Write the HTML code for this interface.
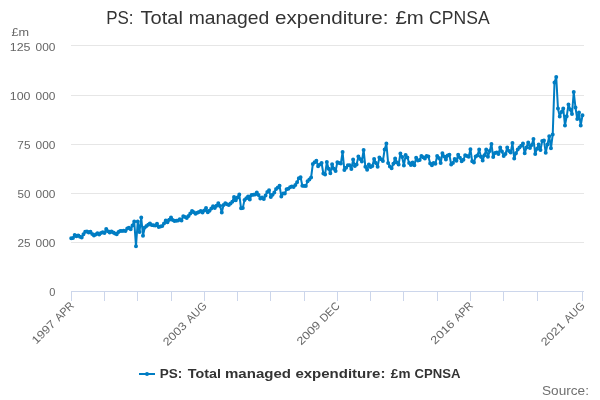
<!DOCTYPE html>
<html><head><meta charset="utf-8"><title>PS: Total managed expenditure: £m CPNSA</title>
<style>html,body{margin:0;padding:0;background:#fff;overflow:hidden}svg{display:block;will-change:transform}text{font-family:"Liberation Sans",sans-serif}</style></head><body>
<svg width="600" height="400" viewBox="0 0 600 400">
<rect width="600" height="400" fill="#fff"/>
<g stroke="#e6e6e6" stroke-width="1" shape-rendering="crispEdges"><path d="M71 45.5H584"/><path d="M71 95.5H584"/><path d="M71 144.5H584"/><path d="M71 193.5H584"/><path d="M71 242.5H584"/></g>
<g stroke="#ccd6eb" stroke-width="1" shape-rendering="crispEdges"><path d="M71 291.5H584"/><path d="M71.5 291V301"/><path d="M104.5 291V301"/><path d="M137.5 291V301"/><path d="M171.5 291V301"/><path d="M204.5 291V301"/><path d="M237.5 291V301"/><path d="M270.5 291V301"/><path d="M304.5 291V301"/><path d="M337.5 291V301"/><path d="M370.5 291V301"/><path d="M403.5 291V301"/><path d="M437.5 291V301"/><path d="M470.5 291V301"/><path d="M503.5 291V301"/><path d="M537.5 291V301"/><path d="M582.5 291V301"/></g>
<path d="M71.20 238.22 L72.95 238.00 L74.70 235.00 L76.45 236.35 L78.20 235.38 L79.95 236.65 L81.71 237.40 L83.46 234.25 L85.21 231.85 L86.96 231.62 L88.71 232.38 L90.46 231.85 L92.21 234.10 L93.96 235.60 L95.71 234.62 L97.47 233.35 L99.22 234.40 L100.97 233.12 L102.72 232.22 L104.47 232.90 L106.22 229.00 L107.97 231.25 L109.72 232.38 L111.47 231.50 L113.22 232.62 L114.97 233.49 L116.73 234.35 L118.48 231.88 L120.23 231.12 L121.98 230.94 L123.73 230.75 L125.48 231.12 L127.23 228.50 L128.98 227.75 L130.73 229.25 L132.49 225.38 L134.24 221.50 L135.99 246.25 L137.74 221.50 L139.49 232.00 L141.24 217.50 L142.99 235.75 L144.74 227.50 L146.49 226.00 L148.24 224.69 L150.00 223.38 L151.75 224.88 L153.50 225.25 L155.25 225.62 L157.00 223.75 L158.75 227.12 L160.50 226.56 L162.25 226.00 L164.00 223.38 L165.75 220.38 L167.50 222.25 L169.26 219.81 L171.01 217.38 L172.76 220.00 L174.51 221.12 L176.26 220.75 L178.01 220.38 L179.76 219.25 L181.51 220.38 L183.26 216.25 L185.01 217.06 L186.77 217.88 L188.52 216.00 L190.27 213.56 L192.02 211.12 L193.77 212.25 L195.52 213.75 L197.27 212.81 L199.02 211.88 L200.77 211.12 L202.52 212.62 L204.28 210.38 L206.03 208.12 L207.78 212.25 L209.53 210.75 L211.28 208.50 L213.03 206.25 L214.78 208.12 L216.53 205.69 L218.28 203.25 L220.03 205.88 L221.79 212.62 L223.54 205.12 L225.29 203.25 L227.04 204.19 L228.79 205.12 L230.54 203.44 L232.29 201.75 L234.04 196.88 L235.79 200.25 L237.55 197.44 L239.30 194.62 L241.05 208.35 L242.80 207.90 L244.55 199.88 L246.30 198.19 L248.05 196.50 L249.80 199.50 L251.55 195.00 L253.30 194.81 L255.06 194.62 L256.81 192.38 L258.56 195.00 L260.31 198.38 L262.06 197.62 L263.81 199.12 L265.56 195.38 L267.31 192.00 L269.06 190.25 L270.81 197.00 L272.56 194.75 L274.32 192.50 L276.07 189.12 L277.82 187.44 L279.57 185.75 L281.32 196.62 L283.07 193.62 L284.82 193.40 L286.57 189.30 L288.32 188.80 L290.07 187.30 L291.83 186.50 L293.58 187.00 L295.33 185.00 L297.08 182.25 L298.83 178.25 L300.58 177.25 L302.33 185.75 L304.08 186.00 L305.83 186.00 L307.58 181.25 L309.34 179.50 L311.09 177.50 L312.84 164.00 L314.59 162.30 L316.34 160.75 L318.09 166.25 L319.84 164.50 L321.59 163.00 L323.34 173.50 L325.09 174.38 L326.85 162.00 L328.60 168.75 L330.35 173.25 L332.10 164.25 L333.85 168.75 L335.60 171.00 L337.35 162.30 L339.10 162.90 L340.85 163.50 L342.60 152.00 L344.36 170.12 L346.11 167.69 L347.86 165.25 L349.61 165.25 L351.36 169.00 L353.11 159.62 L354.86 166.00 L356.61 164.50 L358.36 156.62 L360.11 159.06 L361.87 161.50 L363.62 149.88 L365.37 166.75 L367.12 169.75 L368.87 164.50 L370.62 167.12 L372.37 166.00 L374.12 158.88 L375.87 163.00 L377.62 166.75 L379.38 157.38 L381.13 159.25 L382.88 161.12 L384.63 149.50 L386.38 143.50 L388.13 163.00 L389.88 166.38 L391.63 168.25 L393.38 163.75 L395.13 158.50 L396.89 162.62 L398.64 164.50 L400.39 153.62 L402.14 157.00 L403.89 165.62 L405.64 155.12 L407.39 157.38 L409.14 163.00 L410.89 164.88 L412.64 162.62 L414.40 165.25 L416.15 157.75 L417.90 160.38 L419.65 160.00 L421.40 155.88 L423.15 157.19 L424.90 158.50 L426.65 155.88 L428.40 156.62 L430.15 163.38 L431.91 165.25 L433.66 163.00 L435.41 163.75 L437.16 155.88 L438.91 158.12 L440.66 163.00 L442.41 153.25 L444.16 156.62 L445.91 159.62 L447.66 155.50 L449.42 154.75 L451.17 164.50 L452.92 163.00 L454.67 158.88 L456.42 160.75 L458.17 154.75 L459.92 157.75 L461.67 161.25 L463.42 159.75 L465.17 155.25 L466.93 156.00 L468.68 156.75 L470.43 149.25 L472.18 161.25 L473.93 162.38 L475.68 156.38 L477.43 155.62 L479.18 149.62 L480.93 156.75 L482.68 160.50 L484.44 155.25 L486.19 149.62 L487.94 156.75 L489.69 151.12 L491.44 144.00 L493.19 157.12 L494.94 153.00 L496.69 152.62 L498.44 154.12 L500.19 147.38 L501.95 151.38 L503.70 155.88 L505.45 154.00 L507.20 147.62 L508.95 151.00 L510.70 152.50 L512.45 143.12 L514.20 158.50 L515.95 153.25 L517.71 149.50 L519.46 147.62 L521.21 145.75 L522.96 143.50 L524.71 153.25 L526.46 147.62 L528.21 142.38 L529.96 148.00 L531.71 145.00 L533.46 139.00 L535.22 154.00 L536.97 148.75 L538.72 144.62 L540.47 150.12 L542.22 141.12 L543.97 140.38 L545.72 152.75 L547.47 144.50 L549.22 136.25 L550.97 148.25 L552.73 134.38 L554.48 82.60 L556.23 77.00 L557.98 108.60 L559.73 116.50 L561.48 112.00 L563.23 108.40 L564.98 125.40 L566.73 116.30 L568.48 104.40 L570.24 109.60 L571.99 114.00 L573.74 92.00 L575.49 107.50 L577.24 119.10 L578.99 112.60 L580.74 125.40 L582.49 115.30" fill="none" stroke="#007dc3" stroke-width="2" stroke-linejoin="round" stroke-linecap="round"/>
<path d="M71.20 238.22h0M72.95 238.00h0M74.70 235.00h0M76.45 236.35h0M78.20 235.38h0M79.95 236.65h0M81.71 237.40h0M83.46 234.25h0M85.21 231.85h0M86.96 231.62h0M88.71 232.38h0M90.46 231.85h0M92.21 234.10h0M93.96 235.60h0M95.71 234.62h0M97.47 233.35h0M99.22 234.40h0M100.97 233.12h0M102.72 232.22h0M104.47 232.90h0M106.22 229.00h0M107.97 231.25h0M109.72 232.38h0M111.47 231.50h0M113.22 232.62h0M114.97 233.49h0M116.73 234.35h0M118.48 231.88h0M120.23 231.12h0M121.98 230.94h0M123.73 230.75h0M125.48 231.12h0M127.23 228.50h0M128.98 227.75h0M130.73 229.25h0M132.49 225.38h0M134.24 221.50h0M135.99 246.25h0M137.74 221.50h0M139.49 232.00h0M141.24 217.50h0M142.99 235.75h0M144.74 227.50h0M146.49 226.00h0M148.24 224.69h0M150.00 223.38h0M151.75 224.88h0M153.50 225.25h0M155.25 225.62h0M157.00 223.75h0M158.75 227.12h0M160.50 226.56h0M162.25 226.00h0M164.00 223.38h0M165.75 220.38h0M167.50 222.25h0M169.26 219.81h0M171.01 217.38h0M172.76 220.00h0M174.51 221.12h0M176.26 220.75h0M178.01 220.38h0M179.76 219.25h0M181.51 220.38h0M183.26 216.25h0M185.01 217.06h0M186.77 217.88h0M188.52 216.00h0M190.27 213.56h0M192.02 211.12h0M193.77 212.25h0M195.52 213.75h0M197.27 212.81h0M199.02 211.88h0M200.77 211.12h0M202.52 212.62h0M204.28 210.38h0M206.03 208.12h0M207.78 212.25h0M209.53 210.75h0M211.28 208.50h0M213.03 206.25h0M214.78 208.12h0M216.53 205.69h0M218.28 203.25h0M220.03 205.88h0M221.79 212.62h0M223.54 205.12h0M225.29 203.25h0M227.04 204.19h0M228.79 205.12h0M230.54 203.44h0M232.29 201.75h0M234.04 196.88h0M235.79 200.25h0M237.55 197.44h0M239.30 194.62h0M241.05 208.35h0M242.80 207.90h0M244.55 199.88h0M246.30 198.19h0M248.05 196.50h0M249.80 199.50h0M251.55 195.00h0M253.30 194.81h0M255.06 194.62h0M256.81 192.38h0M258.56 195.00h0M260.31 198.38h0M262.06 197.62h0M263.81 199.12h0M265.56 195.38h0M267.31 192.00h0M269.06 190.25h0M270.81 197.00h0M272.56 194.75h0M274.32 192.50h0M276.07 189.12h0M277.82 187.44h0M279.57 185.75h0M281.32 196.62h0M283.07 193.62h0M284.82 193.40h0M286.57 189.30h0M288.32 188.80h0M290.07 187.30h0M291.83 186.50h0M293.58 187.00h0M295.33 185.00h0M297.08 182.25h0M298.83 178.25h0M300.58 177.25h0M302.33 185.75h0M304.08 186.00h0M305.83 186.00h0M307.58 181.25h0M309.34 179.50h0M311.09 177.50h0M312.84 164.00h0M314.59 162.30h0M316.34 160.75h0M318.09 166.25h0M319.84 164.50h0M321.59 163.00h0M323.34 173.50h0M325.09 174.38h0M326.85 162.00h0M328.60 168.75h0M330.35 173.25h0M332.10 164.25h0M333.85 168.75h0M335.60 171.00h0M337.35 162.30h0M339.10 162.90h0M340.85 163.50h0M342.60 152.00h0M344.36 170.12h0M346.11 167.69h0M347.86 165.25h0M349.61 165.25h0M351.36 169.00h0M353.11 159.62h0M354.86 166.00h0M356.61 164.50h0M358.36 156.62h0M360.11 159.06h0M361.87 161.50h0M363.62 149.88h0M365.37 166.75h0M367.12 169.75h0M368.87 164.50h0M370.62 167.12h0M372.37 166.00h0M374.12 158.88h0M375.87 163.00h0M377.62 166.75h0M379.38 157.38h0M381.13 159.25h0M382.88 161.12h0M384.63 149.50h0M386.38 143.50h0M388.13 163.00h0M389.88 166.38h0M391.63 168.25h0M393.38 163.75h0M395.13 158.50h0M396.89 162.62h0M398.64 164.50h0M400.39 153.62h0M402.14 157.00h0M403.89 165.62h0M405.64 155.12h0M407.39 157.38h0M409.14 163.00h0M410.89 164.88h0M412.64 162.62h0M414.40 165.25h0M416.15 157.75h0M417.90 160.38h0M419.65 160.00h0M421.40 155.88h0M423.15 157.19h0M424.90 158.50h0M426.65 155.88h0M428.40 156.62h0M430.15 163.38h0M431.91 165.25h0M433.66 163.00h0M435.41 163.75h0M437.16 155.88h0M438.91 158.12h0M440.66 163.00h0M442.41 153.25h0M444.16 156.62h0M445.91 159.62h0M447.66 155.50h0M449.42 154.75h0M451.17 164.50h0M452.92 163.00h0M454.67 158.88h0M456.42 160.75h0M458.17 154.75h0M459.92 157.75h0M461.67 161.25h0M463.42 159.75h0M465.17 155.25h0M466.93 156.00h0M468.68 156.75h0M470.43 149.25h0M472.18 161.25h0M473.93 162.38h0M475.68 156.38h0M477.43 155.62h0M479.18 149.62h0M480.93 156.75h0M482.68 160.50h0M484.44 155.25h0M486.19 149.62h0M487.94 156.75h0M489.69 151.12h0M491.44 144.00h0M493.19 157.12h0M494.94 153.00h0M496.69 152.62h0M498.44 154.12h0M500.19 147.38h0M501.95 151.38h0M503.70 155.88h0M505.45 154.00h0M507.20 147.62h0M508.95 151.00h0M510.70 152.50h0M512.45 143.12h0M514.20 158.50h0M515.95 153.25h0M517.71 149.50h0M519.46 147.62h0M521.21 145.75h0M522.96 143.50h0M524.71 153.25h0M526.46 147.62h0M528.21 142.38h0M529.96 148.00h0M531.71 145.00h0M533.46 139.00h0M535.22 154.00h0M536.97 148.75h0M538.72 144.62h0M540.47 150.12h0M542.22 141.12h0M543.97 140.38h0M545.72 152.75h0M547.47 144.50h0M549.22 136.25h0M550.97 148.25h0M552.73 134.38h0M554.48 82.60h0M556.23 77.00h0M557.98 108.60h0M559.73 116.50h0M561.48 112.00h0M563.23 108.40h0M564.98 125.40h0M566.73 116.30h0M568.48 104.40h0M570.24 109.60h0M571.99 114.00h0M573.74 92.00h0M575.49 107.50h0M577.24 119.10h0M578.99 112.60h0M580.74 125.40h0M582.49 115.30h0" fill="none" stroke="#007dc3" stroke-width="4" stroke-linecap="round"/>
<g fill="#333333"><text x="106.20" y="24" font-size="18.5" textLength="27.35" lengthAdjust="spacingAndGlyphs">PS:</text><text x="140.54" y="24" font-size="18.5" textLength="42.39" lengthAdjust="spacingAndGlyphs">Total</text><text x="188.72" y="24" font-size="18.5" textLength="80.52" lengthAdjust="spacingAndGlyphs">managed</text><text x="275.14" y="24" font-size="18.5" textLength="113.35" lengthAdjust="spacingAndGlyphs">expenditure:</text><text x="395.42" y="24" font-size="18.5" textLength="28.30" lengthAdjust="spacingAndGlyphs">£m</text><text x="429.12" y="24" font-size="18.5" textLength="60.51" lengthAdjust="spacingAndGlyphs">CPNSA</text></g>
<g fill="#666666"><text x="11.44" y="35.6" font-size="11.3" textLength="17.60" lengthAdjust="spacingAndGlyphs">£m</text></g>
<g fill="#666666">
<text x="9.75" y="51" font-size="11.2" textLength="20.79" lengthAdjust="spacingAndGlyphs">125</text><text x="35.55" y="51" font-size="11.2" textLength="19.92" lengthAdjust="spacingAndGlyphs">000</text>
<text x="9.76" y="100" font-size="11.2" textLength="20.73" lengthAdjust="spacingAndGlyphs">100</text><text x="35.55" y="100" font-size="11.2" textLength="19.92" lengthAdjust="spacingAndGlyphs">000</text>
<text x="17.39" y="149" font-size="11.2" textLength="13.11" lengthAdjust="spacingAndGlyphs">75</text><text x="35.55" y="149" font-size="11.2" textLength="19.92" lengthAdjust="spacingAndGlyphs">000</text>
<text x="17.53" y="198" font-size="11.2" textLength="12.92" lengthAdjust="spacingAndGlyphs">50</text><text x="35.55" y="198" font-size="11.2" textLength="19.92" lengthAdjust="spacingAndGlyphs">000</text>
<text x="17.42" y="247" font-size="11.2" textLength="13.08" lengthAdjust="spacingAndGlyphs">25</text><text x="35.55" y="247" font-size="11.2" textLength="19.92" lengthAdjust="spacingAndGlyphs">000</text>
<text x="49.28" y="296" font-size="11.2" textLength="6.14" lengthAdjust="spacingAndGlyphs">0</text>
</g>
<g fill="#666666">
<g transform="translate(74.5 306.5) rotate(-45)"><text x="-54.26" y="0" font-size="11.2" textLength="28.26" lengthAdjust="spacingAndGlyphs">1997</text><text x="-21.72" y="0" font-size="11.2" textLength="21.88" lengthAdjust="spacingAndGlyphs">APR</text></g>
<g transform="translate(207.5 306.5) rotate(-45)"><text x="-56.62" y="0" font-size="11.2" textLength="28.31" lengthAdjust="spacingAndGlyphs">2003</text><text x="-24.02" y="0" font-size="11.2" textLength="23.96" lengthAdjust="spacingAndGlyphs">AUG</text></g>
<g transform="translate(340.5 306.5) rotate(-45)"><text x="-55.62" y="0" font-size="11.2" textLength="28.47" lengthAdjust="spacingAndGlyphs">2009</text><text x="-22.92" y="0" font-size="11.2" textLength="22.74" lengthAdjust="spacingAndGlyphs">DEC</text></g>
<g transform="translate(473.5 306.5) rotate(-45)"><text x="-54.32" y="0" font-size="11.2" textLength="28.49" lengthAdjust="spacingAndGlyphs">2016</text><text x="-21.72" y="0" font-size="11.2" textLength="21.88" lengthAdjust="spacingAndGlyphs">APR</text></g>
<g transform="translate(585.5 306.5) rotate(-45)"><text x="-56.61" y="0" font-size="11.2" textLength="28.24" lengthAdjust="spacingAndGlyphs">2021</text><text x="-24.02" y="0" font-size="11.2" textLength="23.96" lengthAdjust="spacingAndGlyphs">AUG</text></g>
</g>
<path d="M139 374H155" stroke="#007dc3" stroke-width="2" fill="none"/><circle cx="147" cy="374" r="2" fill="#007dc3"/>
<g fill="#333333" font-weight="bold"><text x="159.70" y="377.7" font-size="12.4" textLength="22.58" lengthAdjust="spacingAndGlyphs">PS:</text><text x="187.86" y="377.7" font-size="12.4" textLength="33.16" lengthAdjust="spacingAndGlyphs">Total</text><text x="225.00" y="377.7" font-size="12.4" textLength="65.99" lengthAdjust="spacingAndGlyphs">managed</text><text x="295.43" y="377.7" font-size="12.4" textLength="90.01" lengthAdjust="spacingAndGlyphs">expenditure:</text><text x="390.86" y="377.7" font-size="12.4" textLength="19.58" lengthAdjust="spacingAndGlyphs">£m</text><text x="414.47" y="377.7" font-size="12.4" textLength="45.88" lengthAdjust="spacingAndGlyphs">CPNSA</text></g>
<g fill="#707070"><text x="542" y="394.5" font-size="12.3" textLength="47" lengthAdjust="spacingAndGlyphs" >Source:</text></g>
</svg></body></html>
